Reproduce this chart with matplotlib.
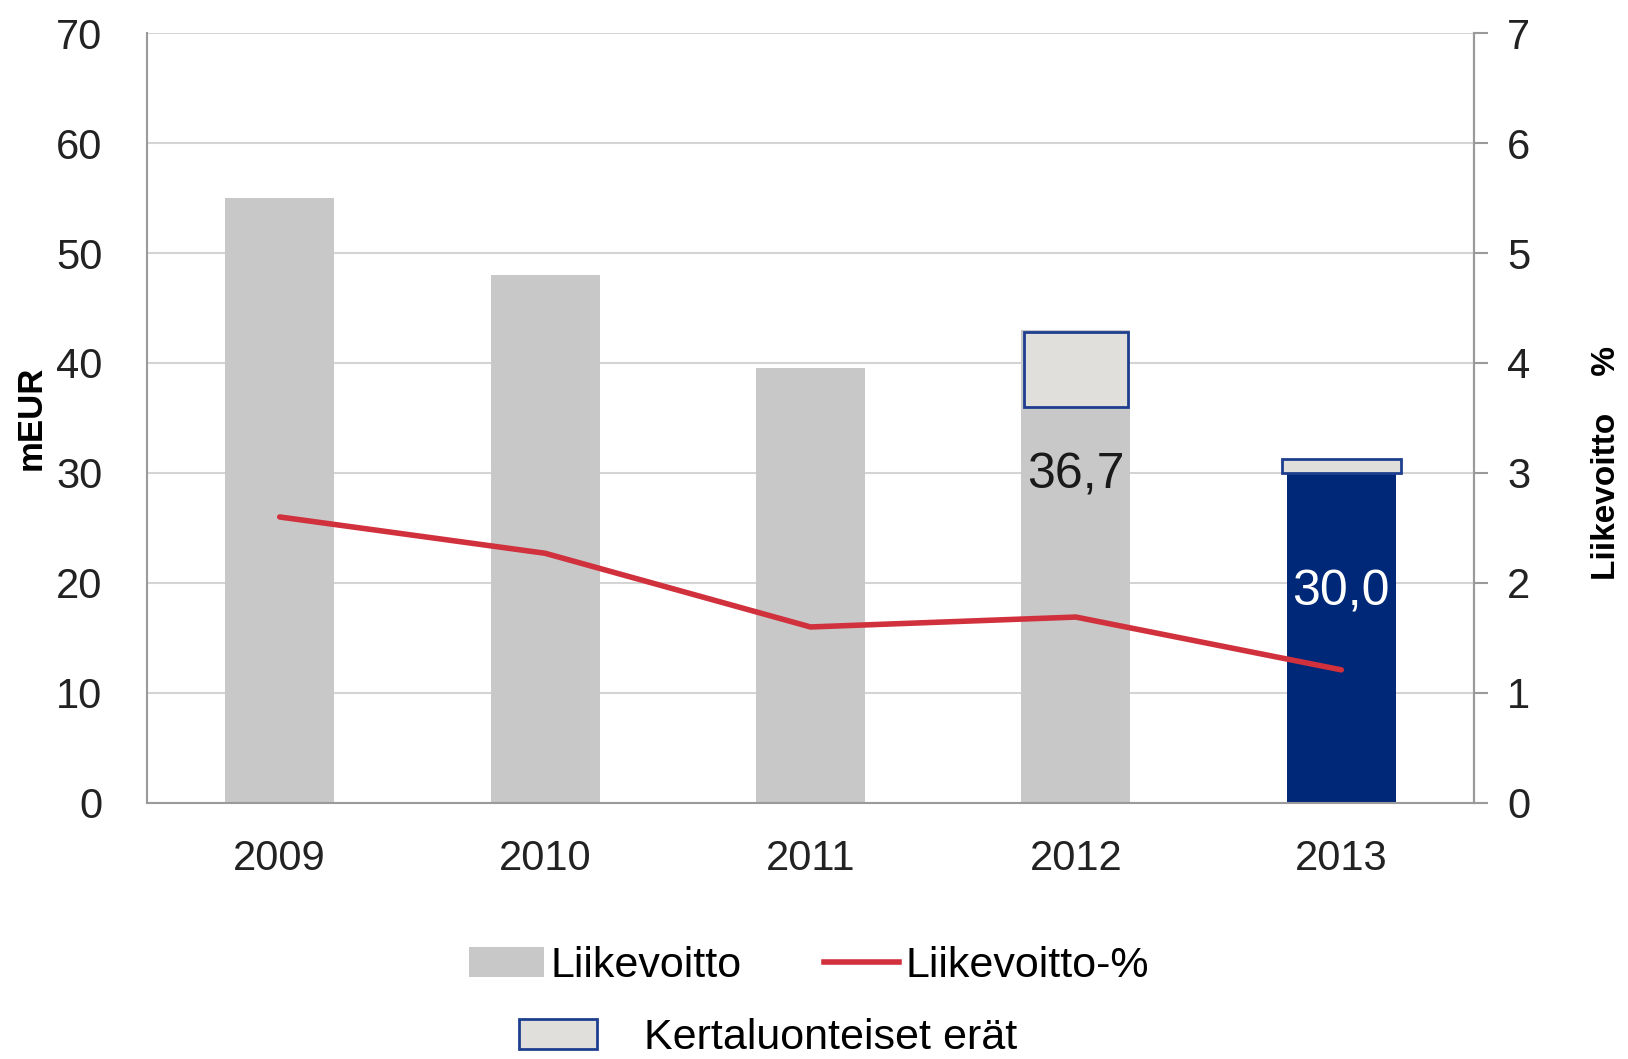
import matplotlib
matplotlib.use("Agg")
import matplotlib.pyplot as plt
from matplotlib.patches import Patch
from matplotlib.lines import Line2D

plt.rcParams['font.family'] = ['Liberation Sans', 'DejaVu Sans']

# ── data ──────────────────────────────────────────────────────────────────────
years = ["2009", "2010", "2011", "2012", "2013"]
liikevoitto = [55.0, 48.0, 39.5, 43.0, 0.0]        # gray bars (mEUR)
liikevoitto_2013 = [0, 0, 0, 0, 30.0]               # highlighted bar
kerta_base = [0, 0, 0, 36.0, 30.0]                  # one-off items box bottom
kerta_height = [0, 0, 0, 6.8, 1.3]                  # one-off items box height
liikevoitto_pct = [2.6, 2.27, 1.6, 1.69, 1.21]      # right axis (%)
bar_labels = {3: ("36,7", 29.8, "#1a1a1a"), 4: ("30,0", 19.1, "white")}

C_GRAY = "#c8c8c8"
C_NAVY = "#002878"
C_RED = "#d0313c"
C_BOX = "#e0dfdc"
C_EDGE = "#1e3f8f"
C_AXIS = "#9a9a9a"

fig = plt.figure(figsize=(16.28, 10.59), dpi=100)
ax = fig.add_axes([0.0903, 0.2418, 0.8151, 0.7270])
x = list(range(len(years)))

ax.bar(x, liikevoitto, width=0.41, color=C_GRAY, zorder=2)
ax.bar(x, liikevoitto_2013, width=0.41, color=C_NAVY, zorder=2)
kw = [0.39 if i == 3 else 0.45 for i in x]
ax.bar(x, kerta_height, bottom=kerta_base, width=kw, color=C_BOX,
       edgecolor=[C_EDGE if h > 0 else "none" for h in kerta_height],
       linewidth=2, zorder=3)

for i, (txt, yv, col) in bar_labels.items():
    ax.text(i, yv, txt, ha="center", va="center", fontsize=36, color=col, zorder=5)

ax.set_xlim(-0.5, len(years) - 0.5)
ax.set_ylim(0, 70)
ax.set_yticks(range(0, 71, 10))
ax.set_xticks(x)
ax.set_xticklabels(years)
ax.grid(axis="y", color="#d4d4d4", linewidth=1.5, zorder=0)
ax.set_axisbelow(True)
ax.tick_params(axis="y", length=0, labelsize=30, pad=32, colors="#222222")
ax.tick_params(axis="x", length=0, labelsize=30, pad=26, colors="#222222")
ax.spines["top"].set_visible(False)
for s in ["left", "right", "bottom"]:
    ax.spines[s].set_color(C_AXIS)
    ax.spines[s].set_linewidth(1.5)
ax.set_ylabel("mEUR", fontsize=25, fontweight="bold", labelpad=6)

ax2 = ax.twinx()
ax2.set_ylim(0, 7)
ax2.set_yticks(range(0, 8))
ax2.plot(x, liikevoitto_pct, color=C_RED, linewidth=4, zorder=4,
         solid_capstyle="round")
ax2.tick_params(axis="y", length=10, width=1.5, color=C_AXIS, labelsize=30,
                pad=14, colors="#222222")
for s in ["top", "left", "bottom"]:
    ax2.spines[s].set_visible(False)
ax2.spines["right"].set_color(C_AXIS)
ax2.spines["right"].set_linewidth(1.5)

# right axis title sits lower than the axis centre in the original
fig.text(0.987, 0.563, "Liikevoitto    %", rotation=90, ha="center",
         va="center", fontsize=24, fontweight="bold")

h1 = [Patch(facecolor=C_GRAY, label="Liikevoitto"),
      Line2D([0], [0], color=C_RED, linewidth=4, label="Liikevoitto-%")]
fig.legend(handles=h1, loc="center", bbox_to_anchor=(0.497, 0.088),
           ncol=2, frameon=False, fontsize=31, handlelength=1.75,
           handletextpad=0.15, columnspacing=1.9)
h2 = [Patch(facecolor=C_BOX, edgecolor=C_EDGE, linewidth=2,
            label="Kertaluonteiset erät")]
fig.legend(handles=h2, loc="center", bbox_to_anchor=(0.472, 0.02),
           frameon=False, fontsize=31, handlelength=1.8, handletextpad=1.1)

fig.savefig("out.png", dpi=100)
